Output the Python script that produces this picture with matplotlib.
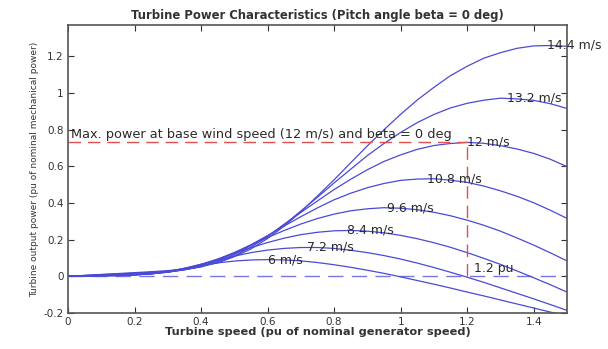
import matplotlib
matplotlib.use("Agg")
import matplotlib.pyplot as plt

# turbine speed (pu) where the curves were read
speed = [0.0, 0.05, 0.1, 0.15, 0.2, 0.25, 0.3, 0.35, 0.4, 0.45, 0.5, 0.55, 0.6, 0.65, 0.7, 0.75,
         0.8, 0.85, 0.9, 0.95, 1.0, 1.05, 1.1, 1.15, 1.2, 1.25, 1.3, 1.35, 1.4, 1.45, 1.5]

wind_labels = ["6 m/s", "7.2 m/s", "8.4 m/s", "9.6 m/s", "10.8 m/s", "12 m/s", "13.2 m/s", "14.4 m/s"]

p_6 = [0, .001, .002, .003, .007, .015, .027, .043, .059, .073, .083, .089, .091, .089, .084, .075,
       .063, .049, .033, .016, -.003, -.023, -.043, -.064, -.086, -.107, -.129, -.151, -.173, -.195, -.216]
p_72 = [0, .001, .003, .004, .007, .013, .026, .044, .066, .089, .110, .129, .143, .152, .157, .157,
        .152, .142, .129, .113, .094, .072, .048, .022, -.005, -.033, -.063, -.093, -.123, -.154, -.186]
p_84 = [0, .002, .003, .005, .008, .013, .023, .041, .065, .094, .125, .156, .184, .208, .227, .240,
        .248, .250, .246, .237, .223, .205, .183, .158, .129, .098, .065, .029, -.008, -.046, -.086]
p_96 = [0, .002, .005, .007, .009, .014, .022, .037, .061, .093, .130, .170, .211, .250, .285, .315,
        .339, .357, .368, .374, .371, .363, .349, .330, .306, .278, .246, .209, .170, .128, .084]
p_108 = [0, .003, .006, .009, .011, .015, .023, .036, .055, .087, .127, .172, .222, .274, .325, .373,
         .417, .453, .483, .506, .523, .530, .532, .524, .512, .492, .466, .436, .401, .360, .316]
p_12 = [0, .004, .007, .011, .014, .018, .024, .035, .053, .080, .119, .168, .218, .284, .348, .411,
        .473, .529, .581, .626, .662, .692, .713, .724, .730, .725, .712, .694, .670, .638, .598]
p_132 = [0, .004, .009, .013, .017, .022, .027, .037, .051, .078, .111, .159, .217, .281, .356, .431,
         .509, .584, .658, .724, .784, .838, .882, .918, .943, .960, .971, .967, .959, .941, .915]
p_144 = [0, .005, .010, .015, .020, .025, .031, .039, .054, .073, .107, .149, .206, .274, .351, .438,
         .526, .619, .711, .799, .883, .961, 1.030, 1.094, 1.145, 1.189, 1.219, 1.243, 1.256, 1.258, 1.254]

# where each label sits (peak of each curve)
label_x = [0.6, 0.72, 0.84, 0.96, 1.08, 1.2, 1.32, 1.44]
label_y = [0.091, 0.158, 0.250, 0.374, 0.532, 0.730, 0.972, 1.261]

p_max = 0.73
speed_base = 1.2

curves = [p_6, p_72, p_84, p_96, p_108, p_12, p_132, p_144]

fig = plt.figure(figsize=(6.08, 3.49), dpi=100)
ax = fig.add_axes([0.1118, 0.1032, 0.8207, 0.8252])

blue = "#4a4ad6"
for p in curves:
    ax.plot(speed, p, color=blue, lw=0.9)

# zero line
ax.plot([0, 1.5], [0, 0], color=blue, lw=1.0, ls=(0, (11, 6)), alpha=0.75)

# max power lines
red = "#e05050"
ax.plot([0, speed_base], [p_max, p_max], color=red, lw=1.0, ls=(0, (9, 5)))
ax.plot([speed_base, speed_base], [0, p_max], color=red, lw=1.0, ls=(0, (9, 5)))

for lx, ly, lab in zip(label_x, label_y, wind_labels):
    ax.text(lx, ly, lab, fontsize=9, ha="left", va="center", color="#2a2a2a", clip_on=False)

ax.text(0.01, 0.775, "Max. power at base wind speed (12 m/s) and beta = 0 deg",
        fontsize=9.3, ha="left", va="center", color="#2a2a2a")
ax.text(1.22, 0.045, "1.2 pu", fontsize=9, ha="left", va="center", color="#2a2a2a")

ax.set_xlim(0, 1.5)
ax.set_ylim(-0.2, 1.37)
ax.set_xticks([0, 0.2, 0.4, 0.6, 0.8, 1, 1.2, 1.4])
ax.set_xticklabels(["0", "0.2", "0.4", "0.6", "0.8", "1", "1.2", "1.4"])
ax.set_yticks([-0.2, 0, 0.2, 0.4, 0.6, 0.8, 1, 1.2])
ax.set_yticklabels(["-0.2", "0", "0.2", "0.4", "0.6", "0.8", "1", "1.2"])
ax.tick_params(direction="in", top=True, right=True, length=4, labelsize=7.5,
               colors="#333333", pad=3)
for s in ax.spines.values():
    s.set_color("#555555")
    s.set_linewidth(1.2)

ax.set_title("Turbine Power Characteristics (Pitch angle beta = 0 deg)",
             fontsize=8.4, fontweight="bold", color="#333333", pad=4)
ax.set_xlabel("Turbine speed (pu of nominal generator speed)",
              fontsize=8.2, fontweight="bold", color="#333333", labelpad=0)
ax.set_ylabel("Turbine output power (pu of nominal mechanical power)",
              fontsize=6.5, color="#333333", labelpad=3)

plt.savefig("out.png", dpi=100)
plt.close(fig)
